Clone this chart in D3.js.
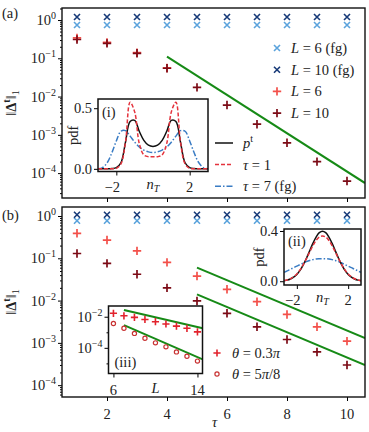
<!doctype html>
<html lang="en">
<head>
<meta charset="UTF-8">
<title>Document</title>
<style>
body { margin: 0; background: #fff; }
svg text { font-family: 'Liberation Serif', 'DejaVu Serif', serif; font-size: 14.5px; fill: #222; }
</style>
</head>
<body>
<svg width="369" height="432"></svg>
<script src="https://d3js.org/d3.v7.min.js"></script>
<script>
// shared
var tau = [1, 2, 3, 4, 5, 6, 7, 8, 9, 10];
var tauTicks = [2, 4, 6, 8, 10];
var decades = [0, -1, -2, -3, -4];

// panel (a)
var aFg6 = [0.74, 0.74, 0.74, 0.74, 0.74, 0.74, 0.74, 0.74, 0.74, 0.74];
var aFg10 = [1.2, 1.2, 1.2, 1.2, 1.2, 1.2, 1.2, 1.2, 1.2, 1.2];
var aL6 = [0.34, 0.26, 0.14, 0.056, null, null, null, null, null, null];
var aL10 = [0.31, 0.246, 0.135, 0.055, 0.0174, 0.006, 0.0019, 6.2e-4, 2.0e-4, 6.2e-5];
var aFit = [[4, 0.11], [10.6, 5.5e-5]];

// panel (b)
var bFg6 = [0.77, 0.77, 0.77, 0.77, 0.77, 0.77, 0.77, 0.77, 0.77, 0.77];
var bFg10 = [1.07, 1.07, 1.07, 1.07, 1.07, 1.07, 1.07, 1.07, 1.07, 1.07];
var bL6 = [0.39, 0.27, 0.15, 0.08, 0.038, 0.0185, 0.0094, 0.0047, 0.0024, 0.0011];
var bL10 = [0.13, 0.076, 0.042, 0.02, 0.0098, 0.005, 0.0024, 0.0012, 6.1e-4, 3.0e-4];
var bFitTop = [[5, 0.06], [10.6, 0.0013]];
var bFitBottom = [[5, 0.014], [10.6, 3.0e-4]];

// insets (i) and (ii): pdf of n_T
var nT = [-3, -2.75, -2.5, -2.25, -2, -1.75, -1.5, -1.25, -1, -0.75, -0.5, -0.25, 0,
    0.25, 0.5, 0.75, 1, 1.25, 1.5, 1.75, 2, 2.25, 2.5, 2.75, 3];
var iPt = [0, 0, 0, 0.002, 0.01, 0.05, 0.22, 0.39, 0.4, 0.31, 0.235, 0.195, 0.185,
    0.195, 0.235, 0.31, 0.4, 0.39, 0.22, 0.05, 0.01, 0.002, 0, 0, 0];
var iTau1 = [0, 0, 0, 0, 0.004, 0.04, 0.22, 0.55, 0.47, 0.21, 0.115, 0.1, 0.1,
    0.1, 0.115, 0.21, 0.47, 0.55, 0.22, 0.04, 0.004, 0, 0, 0, 0];
var iTau7 = [0, 0.01, 0.05, 0.13, 0.23, 0.31, 0.315, 0.27, 0.22, 0.18, 0.155, 0.14, 0.135,
    0.14, 0.155, 0.18, 0.22, 0.27, 0.315, 0.31, 0.23, 0.13, 0.05, 0.01, 0];
var iiPt = [0.004, 0.009, 0.018, 0.032, 0.054, 0.086, 0.13, 0.183, 0.242, 0.301, 0.352, 0.387, 0.399,
    0.387, 0.352, 0.301, 0.242, 0.183, 0.13, 0.086, 0.054, 0.032, 0.018, 0.009, 0.004];
var iiTau1 = [0.005, 0.01, 0.02, 0.036, 0.058, 0.09, 0.132, 0.18, 0.232, 0.283, 0.325, 0.352, 0.36,
    0.352, 0.325, 0.283, 0.232, 0.18, 0.132, 0.09, 0.058, 0.036, 0.02, 0.01, 0.005];
var iiTau7 = [0.07, 0.083, 0.095, 0.108, 0.12, 0.133, 0.145, 0.156, 0.165, 0.172, 0.177, 0.179, 0.18,
    0.179, 0.177, 0.172, 0.165, 0.156, 0.145, 0.133, 0.12, 0.108, 0.095, 0.083, 0.07];

// inset (iii): scaling with L
var sizeL = [6, 7, 8, 9, 10, 11, 12, 13, 14];
var iiiA = [0.0166, 0.0115, 0.0091, 0.0067, 0.0048, 0.0034, 0.0025, 0.0018, 0.00107];
var iiiB = [0.0037, 0.0018, 8.5e-4, 4.1e-4, 2.1e-4, 1.16e-4, 5.5e-5, 2.9e-5, 1.4e-5];
var iiiFitA = [[7, 0.027], [14.5, 0.0018]];
var iiiFitB = [[7, 0.0029], [14.5, 1.8e-5]];

var colFg6 = '#5ba3dc', colFg10 = '#173a78', colL6 = '#f3504a', colL10 = '#7c0b16',
    colFit = '#168a16';

var svg = d3.select('svg');
var left = 62, right = 365;

function plusPath(s) { return 'M' + (-s) + ',0H' + s + 'M0,' + (-s) + 'V' + s; }
function timesPath(s) { return 'M' + (-s) + ',' + (-s) + 'L' + s + ',' + s + 'M' + (-s) + ',' + s + 'L' + s + ',' + (-s); }

function logMinor(lo, hi) {
    var out = [];
    for (var e = Math.floor(Math.log10(lo)); e <= Math.ceil(Math.log10(hi)); e++) {
        for (var k = 2; k < 10; k++) {
            var v = k * Math.pow(10, e);
            if (v >= lo && v <= hi) out.push(v);
        }
    }
    return out;
}

function powLabel(g, x, y, e) {
    var t = g.append('text').attr('x', x).attr('y', y).attr('text-anchor', 'end');
    t.append('tspan').text('10');
    t.append('tspan').attr('dy', -6).style('font-size', '10px')
        .text(e === 0 ? '0' : '\u2212' + (-e));
    return t;
}

function marks(g, xs, ys, x, y, path, color, sw) {
    g.selectAll(null)
        .data(xs.map(function(d, i) { return [d, ys[i]]; }).filter(function(d) { return d[1] != null; }))
        .enter()
        .append('path')
        .attr('transform', function(d) { return 'translate(' + x(d[0]) + ',' + y(d[1]) + ')'; })
        .attr('d', path)
        .attr('fill', 'none')
        .attr('stroke', color)
        .attr('stroke-width', sw);
}

function clip(id, x0, y0, w, h) {
    svg.append('clipPath').attr('id', id).append('rect')
        .attr('x', x0).attr('y', y0).attr('width', w).attr('height', h);
    return 'url(#' + id + ')';
}

var x = d3.scaleLinear().domain([0.5, 10.6]).range([left, right]);

function mainPanel(top, yDom, fg6, fg10, l6, l10, fits, id, showX) {
    var bottom = top + 190;
    var y = d3.scaleLog().domain(yDom).range([bottom, top]);
    var g = svg.append('g');
    // y ticks
    g.append('g')
        .attr('transform', 'translate(' + left + ',0)')
        .call(d3.axisLeft(y).tickValues(logMinor(yDom[0], yDom[1])).tickSize(2).tickFormat(''))
        .call(function(s) { s.select('.domain').remove(); });
    g.append('g')
        .attr('transform', 'translate(' + left + ',0)')
        .call(d3.axisLeft(y).tickValues(decades.map(function(e) { return Math.pow(10, e); })).tickSize(4).tickFormat(''))
        .call(function(s) { s.select('.domain').remove(); });
    decades.forEach(function(e) {
        powLabel(g, left - 6, y(Math.pow(10, e)) + 5, e);
    });
    // x ticks
    g.append('g')
        .attr('transform', 'translate(0,' + bottom + ')')
        .call(d3.axisBottom(x).tickValues(tauTicks).tickSize(4).tickFormat(''))
        .call(function(s) { s.select('.domain').remove(); });
    if (showX) {
        tauTicks.forEach(function(t) {
            g.append('text').attr('x', x(t)).attr('y', bottom + 22).attr('text-anchor', 'middle').text(t);
        });
    }
    var c = clip(id, left, top, right - left, 190);
    var data = g.append('g').attr('clip-path', c);
    fits.forEach(function(f) {
        data.append('path')
            .attr('d', d3.line().x(function(d) { return x(d[0]); }).y(function(d) { return y(d[1]); })(f))
            .attr('stroke', colFit).attr('stroke-width', 2).attr('fill', 'none');
    });
    marks(data, tau, fg6, x, y, timesPath(3), colFg6, 1.6);
    marks(data, tau, fg10, x, y, timesPath(3), colFg10, 1.6);
    marks(data, tau, l6, x, y, plusPath(4.2), colL6, 1.7);
    marks(data, tau, l10, x, y, plusPath(4.2), colL10, 1.7);
    g.append('rect')
        .attr('x', left).attr('y', top).attr('width', right - left).attr('height', 190)
        .attr('fill', 'none').attr('stroke', '#111').attr('stroke-width', 1.4);
    // y label
    var yl = g.append('text')
        .attr('transform', 'translate(16,' + (top + 95) + ') rotate(-90)')
        .attr('text-anchor', 'middle');
    yl.append('tspan').text('\u2016');
    yl.append('tspan').style('font-weight', 'bold').text('\u0394');
    yl.append('tspan').attr('dy', -6).style('font-size', '10px').style('font-weight', 'bold').text('t');
    yl.append('tspan').attr('dy', 6).text('\u2016');
    yl.append('tspan').attr('dy', 3).style('font-size', '10px').text('1');
    return { g: g, y: y };
}

mainPanel(8, [Math.pow(10, -4.65), Math.pow(10, 0.314)], aFg6, aFg10, aL6, aL10, [aFit], 'clipA', false);
mainPanel(207, [Math.pow(10, -4.28), Math.pow(10, 0.213)], bFg6, bFg10, bL6, bL10, [bFitTop, bFitBottom], 'clipB', true);

svg.append('text').attr('x', 2).attr('y', 18).text('(a)');
svg.append('text').attr('x', 2).attr('y', 220).text('(b)');
svg.append('text').attr('x', (left + right) / 2 + 1).attr('y', 427).attr('text-anchor', 'middle')
    .style('font-style', 'italic').text('\u03c4');

// legend (a) markers
var legA = [
    { p: timesPath(3), c: colFg6, sw: 1.6, label: ['L', ' = 6 (fg)'] },
    { p: timesPath(3), c: colFg10, sw: 1.6, label: ['L', ' = 10 (fg)'] },
    { p: plusPath(4.2), c: colL6, sw: 1.7, label: ['L', ' = 6'] },
    { p: plusPath(4.2), c: colL10, sw: 1.7, label: ['L', ' = 10'] }
];
legA.forEach(function(d, i) {
    var yy = 48 + i * 21.7;
    svg.append('path').attr('transform', 'translate(277,' + yy + ')').attr('d', d.p)
        .attr('stroke', d.c).attr('stroke-width', d.sw).attr('fill', 'none');
    var t = svg.append('text').attr('x', 291).attr('y', yy + 5);
    t.append('tspan').style('font-style', 'italic').text(d.label[0]);
    t.append('tspan').text(d.label[1]);
});

// pdf insets
function pdfInset(x0, x1, y0, y1, yDom, yTicks, series, name, nameX, nameY, id) {
    var ix = d3.scaleLinear().domain([-3, 3]).range([x0, x1]);
    var iy = d3.scaleLinear().domain(yDom).range([y1, y0]);
    var g = svg.append('g');
    g.append('rect').attr('x', x0).attr('y', y0).attr('width', x1 - x0).attr('height', y1 - y0).attr('fill', '#fff');
    var c = clip(id, x0, y0, x1 - x0, y1 - y0);
    var lines = g.append('g').attr('clip-path', c);
    series.forEach(function(s) {
        lines.append('path')
            .attr('d', d3.line().x(function(d, i) { return ix(nT[i]); }).y(function(d) { return iy(d); })
                .curve(d3.curveCatmullRom.alpha(0.5))(s.v))
            .attr('fill', 'none').attr('stroke', s.c).attr('stroke-width', 1.5)
            .attr('stroke-dasharray', s.dash);
    });
    g.append('g').attr('transform', 'translate(' + x0 + ',0)')
        .call(d3.axisLeft(iy).tickValues(yTicks).tickSize(4).tickFormat(''))
        .call(function(s) { s.select('.domain').remove(); });
    yTicks.forEach(function(t) {
        g.append('text').attr('x', x0 - 6).attr('y', iy(t) + 5).attr('text-anchor', 'end').text(t.toFixed(1));
    });
    g.append('g').attr('transform', 'translate(0,' + y1 + ')')
        .call(d3.axisBottom(ix).tickValues([-2, 2]).tickSize(4).tickFormat(''))
        .call(function(s) { s.select('.domain').remove(); });
    g.append('text').attr('x', ix(-2) - 4).attr('y', y1 + 20).attr('text-anchor', 'middle').text('\u22122');
    g.append('text').attr('x', ix(2)).attr('y', y1 + 20).attr('text-anchor', 'middle').text('2');
    var nl = g.append('text').attr('x', ix(0)).attr('y', y1 + 17).attr('text-anchor', 'middle');
    nl.append('tspan').style('font-style', 'italic').text('n');
    nl.append('tspan').attr('dy', 3).style('font-size', '10px').style('font-style', 'italic').text('T');
    g.append('text').attr('transform', 'translate(' + (x0 - 20) + ',' + ((y0 + y1) / 2) + ') rotate(-90)')
        .attr('text-anchor', 'middle').text('pdf');
    g.append('text').attr('x', nameX).attr('y', nameY).text(name);
    g.append('rect').attr('x', x0).attr('y', y0).attr('width', x1 - x0).attr('height', y1 - y0)
        .attr('fill', 'none').attr('stroke', '#111').attr('stroke-width', 1.5);
}

pdfInset(98, 208, 99, 171.5, [-0.022, 0.576], [0, 0.5], [
    { v: iTau7, c: '#3a7cc4', dash: '6,2,1.5,2' },
    { v: iPt, c: '#111', dash: null },
    { v: iTau1, c: '#e4333d', dash: '4,2' }
], '(i)', 102, 117, 'clipI');

pdfInset(284, 361, 229, 285, [-0.03, 0.416], [0, 0.4], [
    { v: iiTau7, c: '#3a7cc4', dash: '6,2,1.5,2' },
    { v: iiPt, c: '#111', dash: null },
    { v: iiTau1, c: '#e4333d', dash: '4,2' }
], '(ii)', 288, 246, 'clipII');

// legend (a) lines
var legLines = [
    { c: '#111', dash: null },
    { c: '#e4333d', dash: '4,2' },
    { c: '#3a7cc4', dash: '6,2,1.5,2' }
];
legLines.forEach(function(d, i) {
    var yy = 143 + i * 21.6;
    svg.append('line').attr('x1', 215).attr('x2', 233).attr('y1', yy).attr('y2', yy)
        .attr('stroke', d.c).attr('stroke-width', 1.5).attr('stroke-dasharray', d.dash);
    var t = svg.append('text').attr('x', 243).attr('y', yy + 5);
    if (i === 0) {
        t.append('tspan').style('font-style', 'italic').text('p');
        t.append('tspan').attr('dy', -6).style('font-size', '10px').text('t');
    } else {
        t.append('tspan').style('font-style', 'italic').text('\u03c4');
        t.append('tspan').text(i === 1 ? ' = 1' : ' = 7 (fg)');
    }
});

// inset (iii)
(function() {
    var x0 = 108.5, x1 = 202.5, y0 = 306, y1 = 373.5;
    var lx = d3.scaleLinear().domain([5.53, 14.48]).range([x0, x1]);
    var ly = d3.scaleLog().domain([Math.pow(10, -5.65), Math.pow(10, -1.31)]).range([y1, y0]);
    var g = svg.append('g');
    g.append('rect').attr('x', x0).attr('y', y0).attr('width', x1 - x0).attr('height', y1 - y0).attr('fill', '#fff');
    var c = clip('clipIII', x0, y0, x1 - x0, y1 - y0);
    var d = g.append('g').attr('clip-path', c);
    [iiiFitA, iiiFitB].forEach(function(f) {
        d.append('path')
            .attr('d', d3.line().x(function(p) { return lx(p[0]); }).y(function(p) { return ly(p[1]); })(f))
            .attr('stroke', colFit).attr('stroke-width', 2).attr('fill', 'none');
    });
    marks(d, sizeL, iiiA, lx, ly, plusPath(3.6), '#e2222c', 1.6);
    d.selectAll(null).data(sizeL).enter().append('circle')
        .attr('cx', function(v) { return lx(v); })
        .attr('cy', function(v, i) { return ly(iiiB[i]); })
        .attr('r', 2.1).attr('fill', 'none').attr('stroke', '#c83232').attr('stroke-width', 1.2);
    g.append('g').attr('transform', 'translate(' + x0 + ',0)')
        .call(d3.axisLeft(ly).tickValues([1e-2, 1e-4]).tickSize(4).tickFormat(''))
        .call(function(s) { s.select('.domain').remove(); });
    g.append('g').attr('transform', 'translate(' + x0 + ',0)')
        .call(d3.axisLeft(ly).tickValues([1e-3, 1e-5]).tickSize(2).tickFormat(''))
        .call(function(s) { s.select('.domain').remove(); });
    powLabel(g, x0 - 6, ly(1e-2) + 5, -2);
    powLabel(g, x0 - 6, ly(1e-4) + 5, -4);
    g.append('g').attr('transform', 'translate(0,' + y1 + ')')
        .call(d3.axisBottom(lx).tickValues([6, 14]).tickSize(4).tickFormat(''))
        .call(function(s) { s.select('.domain').remove(); });
    g.append('text').attr('x', lx(6)).attr('y', y1 + 21).attr('text-anchor', 'middle').text('6');
    g.append('text').attr('x', lx(14)).attr('y', y1 + 21).attr('text-anchor', 'middle').text('14');
    g.append('text').attr('x', lx(10)).attr('y', y1 + 19).attr('text-anchor', 'middle').style('font-style', 'italic').text('L');
    g.append('text').attr('x', x0 + 6).attr('y', y1 - 7).text('(iii)');
    g.append('rect').attr('x', x0).attr('y', y0).attr('width', x1 - x0).attr('height', y1 - y0)
        .attr('fill', 'none').attr('stroke', '#111').attr('stroke-width', 1.5);
})();

// legend (b)
svg.append('path').attr('transform', 'translate(217,353)').attr('d', plusPath(3.6))
    .attr('stroke', '#e2222c').attr('stroke-width', 1.6).attr('fill', 'none');
svg.append('circle').attr('cx', 217).attr('cy', 374).attr('r', 2.1)
    .attr('fill', 'none').attr('stroke', '#c83232').attr('stroke-width', 1.2);
var lb1 = svg.append('text').attr('x', 232).attr('y', 358);
lb1.append('tspan').style('font-style', 'italic').text('\u03b8');
lb1.append('tspan').text(' = 0.3');
lb1.append('tspan').style('font-style', 'italic').text('\u03c0');
var lb2 = svg.append('text').attr('x', 232).attr('y', 379);
lb2.append('tspan').style('font-style', 'italic').text('\u03b8');
lb2.append('tspan').text(' = 5');
lb2.append('tspan').style('font-style', 'italic').text('\u03c0');
lb2.append('tspan').text('/8');
</script>
</body>
</html>
